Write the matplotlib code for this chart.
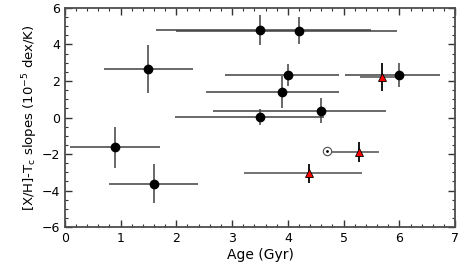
import matplotlib
matplotlib.use("Agg")

import numpy as np
import matplotlib.pyplot as plt
from matplotlib.ticker import MultipleLocator

# ── data ─────────────────────────────────────────────────────────────────────
# black circles: age, slope, age low/high edge, slope error
age_c = [0.9, 1.6, 1.5, 3.5, 4.2, 4.0, 3.9, 3.5, 4.6, 6.0]
slope_c = [-1.63, -3.62, 2.65, 4.78, 4.76, 2.32, 1.40, 0.02, 0.37, 2.32]
age_lo_c = [0.10, 0.79, 0.70, 1.63, 2.00, 2.87, 2.54, 1.98, 2.66, 5.03]
age_hi_c = [1.70, 2.39, 2.29, 5.50, 5.95, 4.91, 4.91, 4.64, 5.76, 6.72]
slope_err_c = [1.12, 1.08, 1.33, 0.83, 0.72, 0.62, 0.88, 0.44, 0.68, 0.64]

# red triangles
age_t = [5.68, 5.28, 4.38]
slope_t = [2.22, -1.88, -3.06]
age_lo_t = [5.30, 4.70, 3.21]
age_hi_t = [6.07, 5.63, 5.33]
slope_err_t = [0.78, 0.55, 0.50]

# the Sun
sun_age, sun_slope = 4.71, -1.82

# ── figure ────────────────────────────────────────────────────────────────────
fig = plt.figure(figsize=(4.63, 2.65), dpi=100)
ax = fig.add_axes([0.140, 0.143, 0.843, 0.827])

xerr_c = [np.subtract(age_c, age_lo_c), np.subtract(age_hi_c, age_c)]
ax.errorbar(age_c, slope_c, xerr=xerr_c, yerr=slope_err_c, fmt="o",
            color="black", ms=6, ecolor="0.25", elinewidth=1.1, capsize=0,
            zorder=3)

xerr_t = [np.subtract(age_t, age_lo_t), np.subtract(age_hi_t, age_t)]
ax.errorbar(age_t, slope_t, xerr=xerr_t, yerr=slope_err_t, fmt="none",
            ecolor="0.3", elinewidth=1.1, capsize=0, zorder=3)
ax.errorbar(age_t, slope_t, yerr=slope_err_t, fmt="^", mfc="red",
            mec="black", mew=0.6, ms=6, ecolor="black", elinewidth=1.1,
            capsize=0, zorder=4)

ax.plot(sun_age, sun_slope, "o", mfc="white", mec="0.3", mew=0.8, ms=6,
        zorder=5)
ax.plot(sun_age, sun_slope, ".", color="black", ms=2, zorder=6)

ax.set_xlim(0, 7)
ax.set_ylim(-6, 6)
ax.xaxis.set_major_locator(MultipleLocator(1))
ax.xaxis.set_minor_locator(MultipleLocator(0.2))
ax.yaxis.set_major_locator(MultipleLocator(2))
ax.yaxis.set_minor_locator(MultipleLocator(0.5))
ax.tick_params(which="both", direction="in", top=True, right=True,
               labelsize=9, colors="0.2")
ax.tick_params(which="major", length=5, width=1)
ax.tick_params(which="minor", length=2.5, width=0.8)
ax.tick_params(labelcolor="black")
for s in ax.spines.values():
    s.set_linewidth(1.3)
    s.set_color("0.3")

ax.set_xlabel("Age (Gyr)", fontsize=10, labelpad=2)
ax.set_ylabel(r"[X/H]-T$_{\rm c}$ slopes (10$^{-5}$ dex/K)", fontsize=9.5,
              labelpad=1)

fig.savefig("out.png", dpi=100)
